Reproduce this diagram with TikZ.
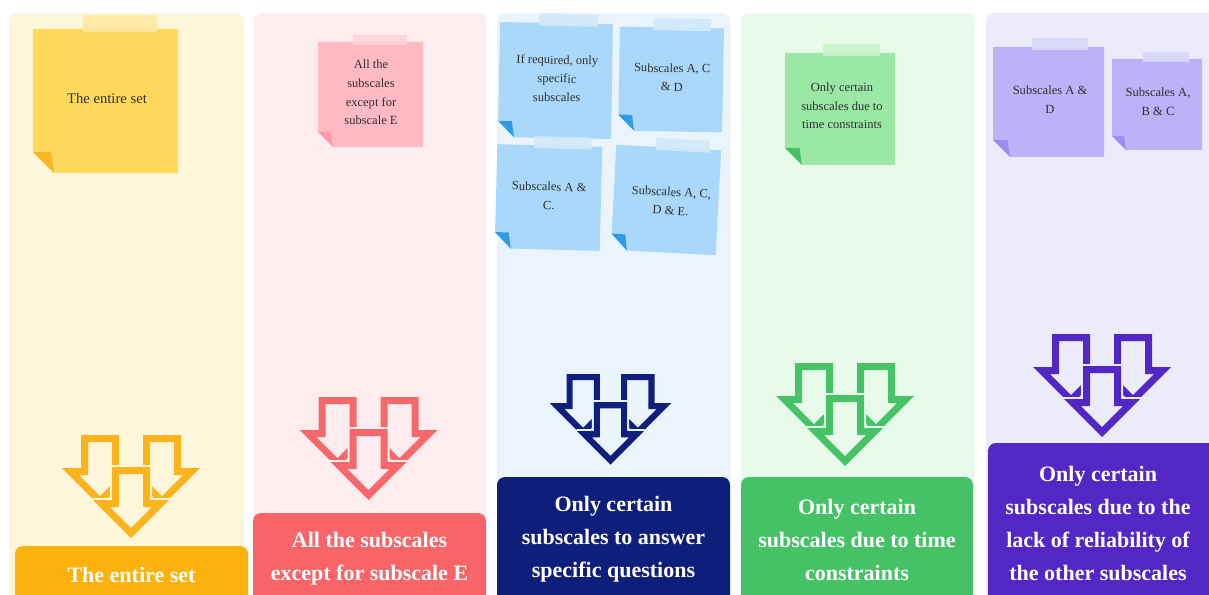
\documentclass[tikz,border=0pt]{standalone}
\usepackage{fontspec}
\setmainfont{Liberation Serif}

% column palettes: panel, note, tape, fold, arrow, box
\definecolor{ylpanel}{HTML}{FEF6DA}
\definecolor{ylnote}{HTML}{FFD95C}
\definecolor{yltape}{HTML}{FDE9A0}
\definecolor{ylfold}{HTML}{FCB423}
\definecolor{ylarrow}{HTML}{FDB31B}
\definecolor{ylbox}{HTML}{FDB10D}
\definecolor{pkpanel}{HTML}{FEECEE}
\definecolor{pknote}{HTML}{FFBAC3}
\definecolor{pktape}{HTML}{FFD5DB}
\definecolor{pkfold}{HTML}{FF9BAA}
\definecolor{pkarrow}{HTML}{F6686B}
\definecolor{pkbox}{HTML}{F86568}
\definecolor{blpanel}{HTML}{E9F4FD}
\definecolor{blnote}{HTML}{A9D8FA}
\definecolor{bltape}{HTML}{D2EAFB}
\definecolor{blfold}{HTML}{2D9BE8}
\definecolor{blarrow}{HTML}{0F1F7E}
\definecolor{blbox}{HTML}{0D1E7B}
\definecolor{grpanel}{HTML}{E8FBEA}
\definecolor{grnote}{HTML}{9AE8A3}
\definecolor{grtape}{HTML}{C8F5CD}
\definecolor{grfold}{HTML}{45C065}
\definecolor{grarrow}{HTML}{46C267}
\definecolor{grbox}{HTML}{46C266}
\definecolor{pupanel}{HTML}{ECEBFC}
\definecolor{punote}{HTML}{BDB2F7}
\definecolor{putape}{HTML}{DAD8FA}
\definecolor{pufold}{HTML}{9C8CF0}
\definecolor{puarrow}{HTML}{5227C5}
\definecolor{pubox}{HTML}{5326C6}
\definecolor{inkgray}{HTML}{303030}

% one outlined down arrow, offset by (#1,#2), in colour #3
\newcommand\outlinearrow[3]{%
  \fill[#3, even odd rule, shift={(#1,#2)}]
    (-19,0) -- (19,0) -- (19,33) -- (38,33) -- (0,71) -- (-38,33) -- (-19,33) -- cycle
    (-12,7) -- (12,7) -- (12,40) -- (21.1,40) -- (0,61.1) -- (-21.1,40) -- (-12,40) -- cycle;}

% three interlocked arrows: #1 name, #2 centre x, #3 top y, #4 scale, #5 colour, #6 background
\newcommand\tripledown[6]{%
  \begin{scope}[shift={(#2,#3)}, scale=#4]
    \coordinate (#1) at (0,0);
    \outlinearrow{-31}{0}{#5}
    \outlinearrow{31}{0}{#5}
    \filldraw[#6, line width=3pt, line join=round, shift={(0,32)}]
      (-19,0) -- (19,0) -- (19,33) -- (38,33) -- (0,71) -- (-38,33) -- (-19,33) -- cycle;
    \outlinearrow{0}{32}{#5}
  \end{scope}}

% sticky note: #1 name, #2 options, #3 centre, #4 width, #5 height,
% #6 tape offset, #7 tape width, #8 palette, #9 text
\newcommand\stickynote[9]{%
  \begin{scope}[shift={#3}, #2]
    \pgfmathsetmacro\hw{#4/2}
    \pgfmathsetmacro\hh{#5/2}
    \fill[#8note] (-\hw,-\hh) -- (\hw,-\hh) -- (\hw,\hh) -- ({-\hw+\notefold},\hh)
      -- (-\hw,{\hh-\notefold}) -- cycle;
    \fill[#8fold] (-\hw,{\hh-\notefold}) -- ({-\hw+0.85*\notefold},{\hh-\notefold})
      -- ({-\hw+\notefold},\hh) -- cycle;
    \fill[#8tape, opacity=0.9] ({#6-#7/2},{-\hh-\tapeh+3}) rectangle ({#6+#7/2},{-\hh+3});
    \node[notetext, transform shape] (#1) at (\textdx,\textdy) {#9};
  \end{scope}}

\begin{document}
\begin{tikzpicture}[x=0.75pt, y=-0.75pt,
  notetext/.style={font=\fontsize{9.4}{14}\selectfont, text=inkgray, align=center, inner sep=0pt},
  boxtext/.style={font=\fontsize{16.5}{24.75}\selectfont\bfseries, text=white, align=center, inner sep=0pt},
  panel/.style={rounded corners=6pt},
  notefold/.store in=\notefold, tapeh/.store in=\tapeh,
  textdx/.store in=\textdx, textdy/.store in=\textdy,
  notefold=16, tapeh=12, textdx=0, textdy=-2]

\useasboundingbox (0,0) rectangle (1209,595);
\clip (0,0) rectangle (1209,595);
\fill[white] (0,0) rectangle (1209,595);

% column panels
\fill[ylpanel, panel] (9,13) rectangle (244,640);
\fill[pkpanel, panel] (254,13) rectangle (486,640);
\fill[blpanel, panel] (497,13) rectangle (730,640);
\fill[grpanel, panel] (741,13) rectangle (974,640);
\fill[pupanel, panel] (986,13) rectangle (1230,640);

% sticky notes
\stickynote{n1}{notefold=21, tapeh=17, textdx=1.5, textdy=-3}{(105.5,101)}{145}{144}{14.5}{74}{yl}{\fontsize{11}{16}\selectfont The entire set}
\stickynote{n2}{notefold=15, tapeh=10, textdx=0.5, textdy=-2}{(370.5,94.5)}{105}{105}{9.5}{54}{pk}{All the\\subscales\\except for\\subscale E}
\stickynote{n3a}{rotate=-1, textdx=1.5}{(555.5,80.5)}{113}{115}{12}{59}{bl}{If required, only\\specific\\subscales}
\stickynote{n3b}{rotate=-1, textdx=1}{(671,79.5)}{104}{104}{10.5}{57}{bl}{Subscales A, C\\\& D}
\stickynote{n3c}{rotate=-1.5, textdx=0.5, textdy=-1.5}{(548.5,197.5)}{105}{104}{13}{57}{bl}{Subscales A \&\\C.}
\stickynote{n3d}{rotate=-3, textdx=5, textdy=1}{(666,200)}{105}{105}{14}{54}{bl}{Subscales A, C,\\D \& E.}
\stickynote{n4}{notefold=17, textdx=2, textdy=-3}{(840,109)}{110}{112}{11.5}{57}{gr}{Only certain\\subscales due to\\time constraints}
\stickynote{n5a}{notefold=17, textdx=1.5, textdy=-2.5}{(1048.5,102)}{111}{110}{11.5}{56}{pu}{Subscales A \&\\D}
\stickynote{n5b}{notefold=14, tapeh=10, textdx=1, textdy=-2.5}{(1157,104.5)}{90}{91}{9}{46}{pu}{Subscales A,\\B \& C}

% arrow icons
\tripledown{a1}{131}{435}{1}{ylarrow}{ylpanel}
\tripledown{a2}{368.5}{397}{1}{pkarrow}{pkpanel}
\tripledown{a3}{610.5}{374}{0.88}{blarrow}{blpanel}
\tripledown{a4}{845}{363}{1}{grarrow}{grpanel}
\tripledown{a5}{1102}{334}{1}{puarrow}{pupanel}

% outcome boxes
\fill[ylbox, panel] (15,546) rectangle (248,640);
\node[boxtext] (b1) at (131.5,575) {The entire set};
\fill[pkbox, panel] (253,513) rectangle (486,640);
\node[boxtext] (b2) at (369.5,559) {All the subscales\\except for subscale E};
\fill[blbox, panel] (497,477) rectangle (730,640);
\node[boxtext] (b3) at (613.5,539.5) {Only certain\\subscales to answer\\specific questions};
\fill[grbox, panel] (741,477) rectangle (973,640);
\node[boxtext] (b4) at (857,539.5) {Only certain\\subscales due to time\\constraints};
\fill[pubox, panel] (988,443) rectangle (1230,640);
\node[boxtext] (b5) at (1098,523) {Only certain\\subscales due to the\\lack of reliability of\\the other subscales};

\end{tikzpicture}
\end{document}
